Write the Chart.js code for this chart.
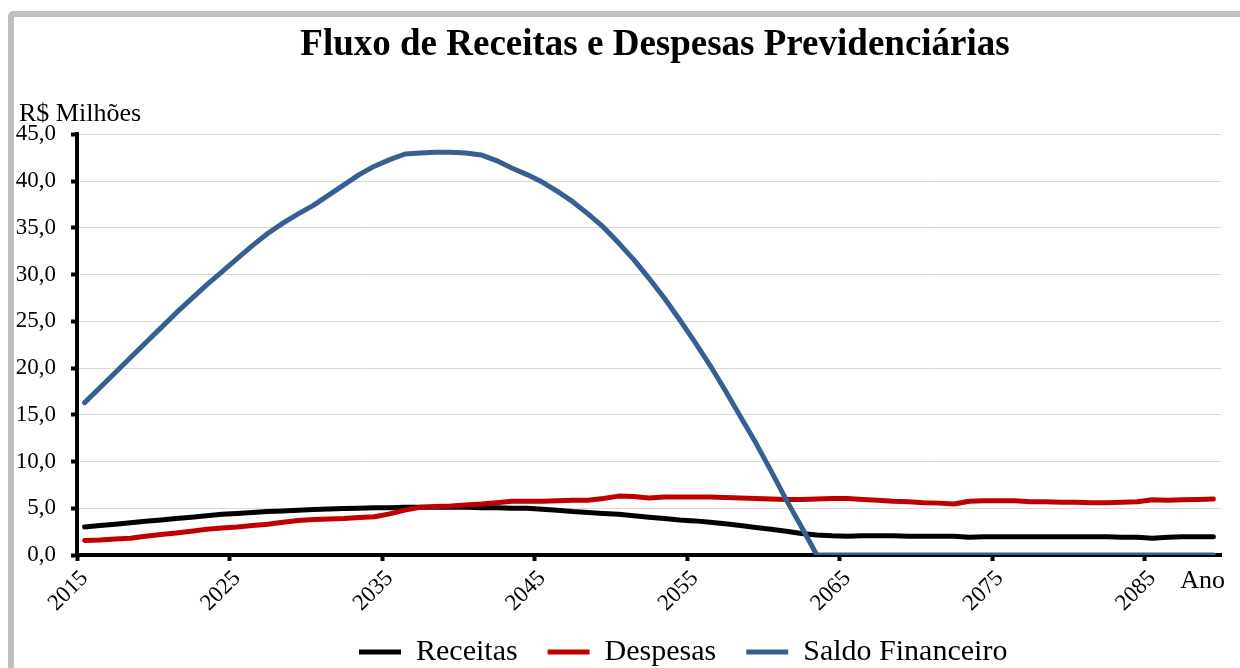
<!DOCTYPE html>
<html>
<head>
<meta charset="utf-8">
<script src="https://cdn.jsdelivr.net/npm/chart.js@4/dist/chart.umd.min.js"></script>
<style>
  html, body { margin: 0; padding: 0; background: #ffffff; overflow: hidden; }
  #frame { position: absolute; left: 8px; top: 11px; width: 1300px; height: 720px;
           border: 6px solid #bfbfbf; border-radius: 5px; box-sizing: border-box; background: #ffffff; }
  #wrap { position: absolute; left: 0; top: 0; width: 1240px; height: 668px; }
</style>
</head>
<body>
<div id="frame"></div>
<div id="wrap"><canvas id="c" width="1240" height="668"></canvas></div>
<script>
const years = [2015,2016,2017,2018,2019,2020,2021,2022,2023,2024,2025,2026,2027,2028,2029,2030,2031,2032,2033,2034,
  2035,2036,2037,2038,2039,2040,2041,2042,2043,2044,2045,2046,2047,2048,2049,2050,2051,2052,2053,2054,
  2055,2056,2057,2058,2059,2060,2061,2062,2063,2064,2065,2066,2067,2068,2069,2070,2071,2072,2073,2074,
  2075,2076,2077,2078,2079,2080,2081,2082,2083,2084,2085,2086,2087,2088,2089];

const receitas = [3.0,3.15,3.3,3.45,3.6,3.75,3.9,4.05,4.2,4.35,4.45,4.55,4.65,4.72,4.8,4.87,4.92,4.97,5.0,5.05,
  5.05,5.1,5.1,5.1,5.1,5.1,5.05,5.05,5.0,5.0,4.9,4.8,4.65,4.55,4.45,4.35,4.2,4.05,3.9,3.75,
  3.65,3.5,3.35,3.15,2.95,2.75,2.55,2.3,2.15,2.05,2.0,2.05,2.05,2.05,2.0,2.0,2.0,2.0,1.9,1.95,
  1.95,1.95,1.95,1.95,1.95,1.95,1.95,1.95,1.9,1.9,1.8,1.9,1.95,1.95,1.95];

const despesas = [1.55,1.6,1.7,1.8,2.0,2.2,2.35,2.55,2.75,2.9,3.0,3.15,3.3,3.5,3.7,3.8,3.85,3.9,4.0,4.1,
  4.4,4.8,5.1,5.2,5.25,5.35,5.45,5.6,5.75,5.75,5.75,5.8,5.85,5.85,6.05,6.3,6.25,6.1,6.2,6.2,
  6.2,6.2,6.15,6.1,6.05,6.0,5.95,5.95,6.0,6.05,6.05,5.95,5.85,5.75,5.7,5.6,5.55,5.45,5.75,5.8,
  5.8,5.8,5.7,5.7,5.65,5.65,5.6,5.6,5.65,5.7,5.9,5.85,5.9,5.95,6.0];

const saldo = [16.3,17.9,19.5,21.1,22.7,24.3,25.9,27.4,28.9,30.3,31.7,33.1,34.4,35.5,36.5,37.4,38.5,39.6,40.7,41.6,
  42.3,42.9,43.0,43.1,43.1,43.0,42.8,42.2,41.4,40.7,39.9,38.9,37.8,36.5,35.1,33.4,31.6,29.6,27.5,25.2,
  22.8,20.3,17.6,14.8,12.0,9.0,5.9,3.0,0,0,0,0,0,0,0,0,0,0,0,0,
  0,0,0,0,0,0,0,0,0,0,0,0,0,0,0];

const yTicks = [0,5,10,15,20,25,30,35,40,45];
const seriesNames = ['Receitas','Despesas','Saldo Financeiro'];
const titleText = 'Fluxo de Receitas e Despesas Previdenciárias';
const yAxisLabel = 'R$ Milhões';
const xAxisLabel = 'Ano';

const SERIF = "'Liberation Serif', 'Times New Roman', serif";

const refLayout = {
  id: 'refLayout',
  afterLayout(chart) {
    const t = chart.titleBlock;
    if (t) { const w = t.right - t.left; t.left = 655 - w / 2; t.right = t.left + w; }
    const lg = chart.legend;
    if (lg) {
      const w = lg.right - lg.left, h = lg.bottom - lg.top;
      const p = lg.options.labels.padding, fs = lg.options.labels.font.size;
      lg.left = 359 - p; lg.right = lg.left + w;
      lg.top = 652 - p - fs / 2; lg.bottom = lg.top + h;
    }
  },
  afterDraw(chart) {
    const ctx = chart.ctx, a = chart.chartArea;
    ctx.save();
    ctx.fillStyle = '#000';
    ctx.font = "26px " + SERIF;
    ctx.textBaseline = 'alphabetic';
    ctx.textAlign = 'left';
    ctx.fillText(yAxisLabel, 19, a.top - 13);
    ctx.textAlign = 'right';
    ctx.fillText(xAxisLabel, a.right + 4, a.bottom + 33);
    ctx.restore();
  }
};

const mk = (label, data, color, order) => ({
  label, data, borderColor: color, backgroundColor: color, borderWidth: 5,
  pointRadius: 0, pointHoverRadius: 0, tension: 0, borderCapStyle: 'round', borderJoinStyle: 'round',
  fill: false, order
});

new Chart(document.getElementById('c'), {
  type: 'line',
  data: {
    labels: years,
    datasets: [
      mk(seriesNames[0], receitas, '#000000', 2),
      mk(seriesNames[1], despesas, '#c00000', 1),
      mk(seriesNames[2], saldo, '#376092', 0)
    ]
  },
  options: {
    responsive: false,
    animation: false,
    devicePixelRatio: 1,
    layout: { padding: { top: 17, left: 14, right: 19, bottom: -23 } },
    plugins: {
      tooltip: { enabled: false },
      title: {
        display: true, text: titleText, color: '#000',
        font: { family: SERIF, size: 37, weight: 'bold', lineHeight: 1.2 },
        padding: { top: 6, bottom: 67 }
      },
      legend: {
        position: 'bottom', align: 'start',
        labels: {
          sort: (a, b) => a.datasetIndex - b.datasetIndex,
          usePointStyle: true, pointStyle: 'line', pointStyleWidth: 42,
          color: '#000', padding: 30,
          font: { family: SERIF, size: 30 }
        }
      }
    },
    scales: {
      x: {
        type: 'category', offset: true,
        afterFit(s) { s.height = 66; },
        grid: {
          display: true, drawOnChartArea: false, drawTicks: true, offset: true,
          tickLength: 6, tickWidth: 4,
          tickColor: (c) => (c.index !== undefined && c.index % 10 === 0) ? '#000' : 'rgba(0,0,0,0)'
        },
        border: { display: true, color: '#000', width: 4 },
        ticks: {
          autoSkip: false, maxRotation: 45, minRotation: 45, padding: 4,
          color: '#000', font: { family: SERIF, size: 23 },
          callback: function (v, i) { return i % 10 === 0 ? String(this.getLabelForValue(v)) : ''; }
        }
      },
      y: {
        min: 0, max: 45,
        afterFit(s) { s.width = 63; },
        afterBuildTicks(s) { s.ticks = yTicks.map(v => ({ value: v })); },
        grid: {
          color: (c) => (c.tick && c.tick.value === 0) ? 'rgba(0,0,0,0)' : '#d9d9d9',
          lineWidth: 1, tickLength: 6, tickWidth: 4, tickColor: '#000'
        },
        border: { display: true, color: '#000', width: 4 },
        ticks: {
          padding: 15, color: '#000', font: { family: SERIF, size: 23 },
          callback: (v) => Number(v).toFixed(1).replace('.', ',')
        }
      }
    }
  },
  plugins: [refLayout]
});
</script>
</body>
</html>
